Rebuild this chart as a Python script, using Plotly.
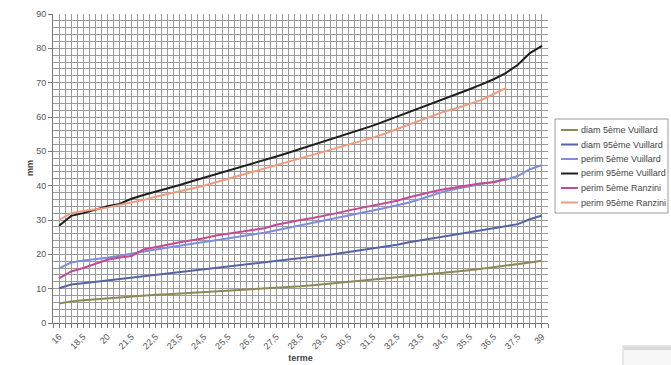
import plotly.graph_objects as go

# Gestational age categories (weeks); every second one is labelled on the axis
terme = ["16", "17", "18,5", "19", "20", "21", "21,5", "22", "22,5", "23",
         "23,5", "24", "24,5", "25", "25,5", "26", "26,5", "27", "27,5", "28",
         "28,5", "29", "29,5", "30", "30,5", "31", "31,5", "32", "32,5", "33",
         "33,5", "34", "34,5", "35", "35,5", "36", "36,5", "37", "37,5", "38",
         "39"]

diam_5_vuillard = [5.7, 6.3, 6.6, 6.9, 7.2, 7.5, 7.7, 7.9, 8.2, 8.4,
                   8.6, 8.8, 8.9, 9.1, 9.3, 9.5, 9.7, 9.9, 10.1, 10.4,
                   10.7, 11.0, 11.3, 11.6, 12.0, 12.3, 12.7, 13.0, 13.3, 13.7,
                   14.0, 14.4, 14.7, 15.0, 15.4, 15.8, 16.2, 16.6, 17.1, 17.6,
                   18.1]

diam_95_vuillard = [10.1, 11.2, 11.6, 12.0, 12.5, 12.9, 13.3, 13.7, 14.1, 14.5,
                    14.9, 15.3, 15.7, 16.1, 16.5, 16.9, 17.3, 17.7, 18.1, 18.5,
                    18.9, 19.3, 19.7, 20.2, 20.7, 21.2, 21.7, 22.2, 22.8, 23.5,
                    24.1, 24.7, 25.3, 25.9, 26.5, 27.1, 27.6, 28.1, 28.8, 30.2,
                    31.3]

perim_5_vuillard = [15.9, 17.6, 18.2, 18.5, 19.0, 19.6, 20.3, 20.8, 21.4, 22.0,
                    22.5, 23.1, 23.6, 24.1, 24.6, 25.1, 25.7, 26.3, 27.0, 27.7,
                    28.4, 29.1, 29.8, 30.5, 31.2, 32.0, 32.7, 33.5, 34.3, 35.1,
                    36.2, 37.3, 38.4, 39.2, 39.9, 40.5, 41.1, 41.7, 42.8, 44.8,
                    46.0]

perim_95_vuillard = [28.3, 31.2, 32.0, 33.0, 34.0, 34.7, 36.2, 37.3, 38.2, 39.2,
                     40.2, 41.3, 42.3, 43.3, 44.3, 45.3, 46.3, 47.4, 48.5, 49.6,
                     50.7, 51.8, 52.9, 54.0, 55.1, 56.3, 57.5, 58.8, 60.1, 61.4,
                     62.7, 64.0, 65.3, 66.7, 68.1, 69.5, 71.0, 72.8, 75.2, 78.6,
                     80.7]

perim_5_ranzini = [13.0, 15.0, 16.0, 17.2, 18.4, 19.1, 19.5, 21.4, 22.0, 22.8,
                   23.5, 24.0, 24.7, 25.5, 26.0, 26.5, 27.0, 27.6, 28.6, 29.4,
                   30.0, 30.6, 31.2, 32.0, 32.8, 33.5, 34.1, 34.8, 35.6, 36.6,
                   37.5, 38.3, 39.0, 39.6, 40.3, 40.7, 41.0, 42.0]

perim_95_ranzini = [30.0, 32.0, 32.6, 33.0, 33.6, 34.4, 35.0, 35.8, 36.8, 37.6,
                    38.2, 39.2, 40.0, 41.0, 42.0, 43.0, 43.9, 44.8, 45.8, 46.9,
                    48.0, 48.9, 49.9, 50.9, 51.8, 52.9, 54.0, 55.2, 56.5, 57.8,
                    59.2, 60.6, 61.7, 62.6, 63.8, 65.0, 66.7, 68.4]

series = [
    ("diam 5ème Vuillard", diam_5_vuillard, "#8e8857"),
    ("diam 95ème Vuillard", diam_95_vuillard, "#5664a6"),
    ("perim 5ème Vuillard", perim_5_vuillard, "#7f8ddc"),
    ("perim 95ème Vuillard", perim_95_vuillard, "#1e1e1e"),
    ("perim 5ème Ranzini", perim_5_ranzini, "#c64a92"),
    ("perim 95ème Ranzini", perim_95_ranzini, "#f09c7c"),
]

W, H = 671, 365
ML, MR, MT, MB = 53, 123, 14, 42
PW, PH = W - ML - MR, H - MT - MB


def px(x):
    return (x - ML) / PW


def py(y):
    return (H - MB - y) / PH


fig = go.Figure()
for name, values, color in series:
    fig.add_trace(go.Scatter(
        x=list(range(len(values))), y=values, name=name, mode="lines",
        line=dict(color=color, width=2), showlegend=False,
    ))

# Compact legend box to the right of the plot
shapes = [dict(type="rect", xref="paper", yref="paper",
               x0=px(555), x1=px(668), y0=py(213), y1=py(119),
               line=dict(color="#9a9a9a", width=1), fillcolor="white",
               layer="above")]
annotations = []
for k, (name, _, color) in enumerate(series):
    yc = 130 + k * 14.5
    shapes.append(dict(type="line", xref="paper", yref="paper",
                       x0=px(561), x1=px(578), y0=py(yc), y1=py(yc),
                       line=dict(color=color, width=2), layer="above"))
    annotations.append(dict(xref="paper", yref="paper", x=px(579), y=py(yc),
                            text=name, showarrow=False, xanchor="left",
                            yanchor="middle",
                            font=dict(size=9, color="#444")))

# Y axis title
annotations.append(dict(xref="paper", yref="paper", x=px(30), y=py(168),
                        text="<b>mm</b>", showarrow=False, textangle=-90,
                        xanchor="center", yanchor="middle",
                        font=dict(size=9, color="#444")))

# Small window thumbnail at the bottom-right corner
shapes.append(dict(type="rect", xref="paper", yref="paper",
                   x0=px(623), x1=px(672), y0=py(366), y1=py(346),
                   line=dict(color="#cfcfcf", width=1), fillcolor="#f7f7f7"))
shapes.append(dict(type="rect", xref="paper", yref="paper",
                   x0=px(624), x1=px(672), y0=py(350), y1=py(347),
                   line=dict(width=0), fillcolor="#d9d9d9"))

grid = "#9a9a9a"
label_idx = list(range(0, len(terme), 2))

fig.update_layout(
    width=W, height=H,
    margin=dict(l=ML, r=MR, t=MT, b=MB),
    paper_bgcolor="white", plot_bgcolor="white",
    font=dict(family="Liberation Sans, Arial, sans-serif", size=9, color="#444"),
    shapes=shapes, annotations=annotations,
    xaxis=dict(
        range=[-0.5, len(terme) - 0.5], automargin=False,
        tickmode="array", tickvals=label_idx,
        ticktext=[terme[i] for i in label_idx],
        tickangle=-45, tickfont=dict(size=9, color="#555"),
        showgrid=True, gridcolor=grid, gridwidth=1,
        minor=dict(dtick=0.5, tick0=-0.5, showgrid=True, gridcolor=grid,
                   gridwidth=1, ticks="outside", ticklen=4, tickcolor="#777"),
        ticks="outside", ticklen=4, tickcolor="#777",
        showline=True, linecolor="#777", linewidth=1,
        zeroline=False,
        title=dict(text="<b>terme</b>", font=dict(size=9, color="#444"),
                   standoff=4),
    ),
    yaxis=dict(
        range=[0, 90], dtick=10, tick0=0, automargin=False,
        tickfont=dict(size=9, color="#555"),
        showgrid=True, gridcolor=grid, gridwidth=1,
        minor=dict(dtick=2, showgrid=True, gridcolor=grid, gridwidth=1),
        ticks="outside", ticklen=4, tickcolor="#777",
        showline=True, linecolor="#777", linewidth=1,
        zeroline=False,
    ),
)

fig.write_html("out.html")
